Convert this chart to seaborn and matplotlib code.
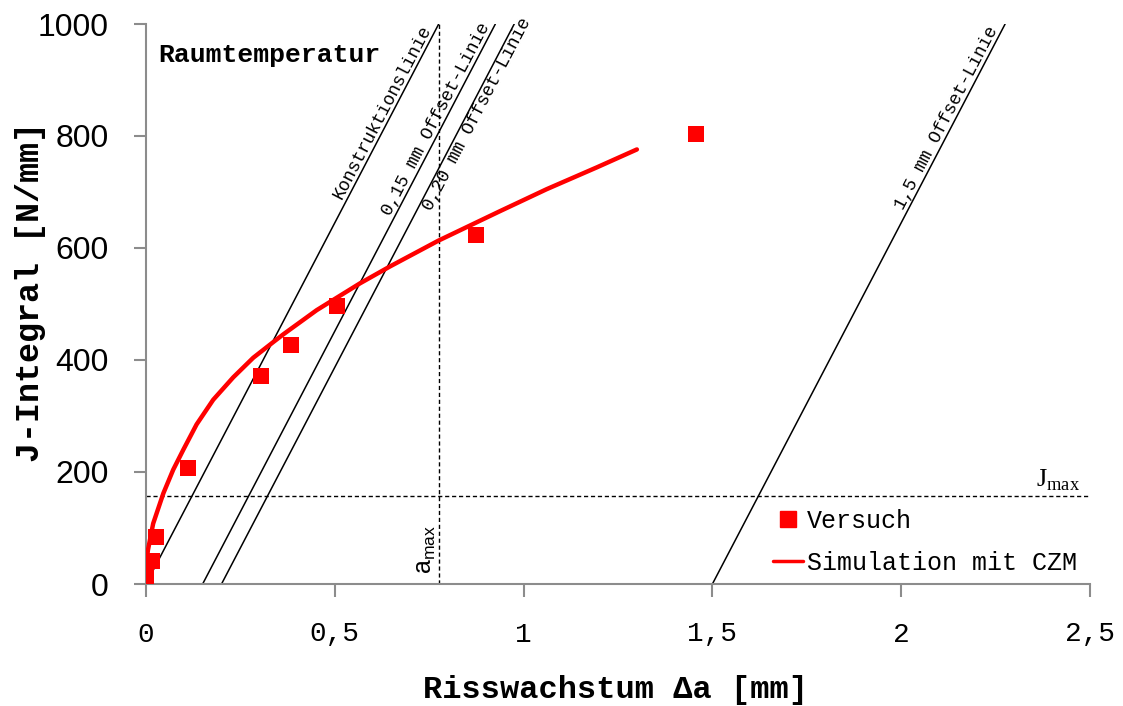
import numpy as np
import pandas as pd
import matplotlib
matplotlib.use("Agg")
import matplotlib.pyplot as plt
from matplotlib.lines import Line2D
import seaborn as sns

# Measured J-R points (crack growth in mm, J in N/mm)
versuch_da = [0.0, 0.016, 0.026, 0.111, 0.305, 0.384, 0.506, 0.874, 1.457]
versuch_J = [14, 41, 84, 207, 371, 427, 496, 623, 804]

# Simulated J-R curve with cohesive zone model
sim_da = [0.0, 0.005, 0.019, 0.046, 0.072, 0.099, 0.134, 0.178, 0.231, 0.284,
          0.337, 0.364, 0.452, 0.567, 0.646, 0.774, 0.935, 1.061, 1.194, 1.300]
sim_J = [30, 60, 108, 162, 204, 240, 285, 329, 369, 404,
         432, 446, 489, 537, 567, 613, 665, 705, 744, 776]

# Construction / offset lines (slope in N/mm per mm)
blunting_slope = 1290
offsets = [0.0, 0.15, 0.20, 1.5]
offset_labels = ["Konstruktionslinie", "0,15 mm Offset-Linie",
                 "0,20 mm Offset-Linie", "1,5 mm Offset-Linie"]
label_J = [682, 652, 676, 664]
label_side = ["left", "left", "right", "left"]

a_max = 0.776
J_max = 157

x_ticks = [0, 0.5, 1, 1.5, 2, 2.5]
x_ticklabels = ["0", "0,5", "1", "1,5", "2", "2,5"]
y_ticks = [0, 200, 400, 600, 800, 1000]

sns.set_style("white")
plt.rcParams["font.family"] = ["Liberation Mono", "DejaVu Sans Mono"]
plt.rcParams["text.color"] = "black"
plt.rcParams["axes.labelcolor"] = "black"

fig = plt.figure(figsize=(11.23, 7.06), dpi=100)
ax = fig.add_axes([146 / 1123, 1 - 584 / 706, 944 / 1123, 560 / 706])
ax.set_xlim(0, 2.5)
ax.set_ylim(0, 1000)

mono = "Liberation Mono"
spine_grey = "#8c8c8c"

# reference lines
ax.plot([a_max, a_max], [0, 1000], color="black", lw=1.0, ls=(0, (3, 2)), zorder=2)
ax.plot([0, 2.5], [J_max, J_max], color="black", lw=1.0, ls=(0, (3, 2)), zorder=2)

fig.canvas.draw()
p0 = ax.transData.transform((0, 0))
p1 = ax.transData.transform((1000 / blunting_slope, 1000))
angle = np.degrees(np.arctan2(p1[1] - p0[1], p1[0] - p0[0]))

for off, lab, jl, side in zip(offsets, offset_labels, label_J, label_side):
    ax.plot([off, off + 1000 / blunting_slope], [0, 1000], color="black", lw=1.1, zorder=2)
    ax.text(off + jl / blunting_slope, jl, lab, rotation=angle, rotation_mode="anchor",
            ha="left", va="bottom" if side == "left" else "top",
            fontsize=13, family=mono, color="black")

# data
df_v = pd.DataFrame({"da": versuch_da, "J": versuch_J})
df_s = pd.DataFrame({"da": sim_da, "J": sim_J})
sns.lineplot(data=df_s, x="da", y="J", ax=ax, color="#ff0000", lw=3.2,
             sort=False, zorder=4, legend=False)
sns.scatterplot(data=df_v, x="da", y="J", ax=ax, marker="s", s=135, color="#ff0000",
                edgecolor="none", linewidth=0, zorder=5, legend=False)

# annotations
ax.text(a_max - 0.004, 18, r"a$_\mathregular{max}$", rotation=90, ha="right", va="bottom",
        fontsize=18, family="Liberation Sans")
ax.text(2.475, J_max + 5, r"J$_\mathregular{max}$", ha="right", va="bottom",
        fontsize=19, family="Liberation Serif")
ax.text(0.0127, 0.932, "Raumtemperatur", transform=ax.transAxes, ha="left",
        va="baseline", fontsize=19, fontweight="bold", family=mono)

# axes styling
for s in ["top", "right"]:
    ax.spines[s].set_visible(False)
for s in ["left", "bottom"]:
    ax.spines[s].set_color(spine_grey)
    ax.spines[s].set_linewidth(1.5)

ax.set_xticks(x_ticks)
ax.set_xticklabels(x_ticklabels, family=mono, fontsize=20)
ax.set_yticks(y_ticks)
ax.set_yticklabels([str(v) for v in y_ticks], family="Liberation Sans", fontsize=23)
ax.tick_params(axis="x", direction="out", length=9, width=1.5, color=spine_grey,
               labelcolor="black", pad=18, bottom=True)
ax.tick_params(axis="y", direction="out", length=9, width=1.5, color=spine_grey,
               labelcolor="black", pad=18, left=True)

ax.set_xlabel("Risswachstum Δa [mm]", family=mono, fontweight="bold", fontsize=23)
ax.set_ylabel("J-Integral [N/mm]", family=mono, fontweight="bold", fontsize=24)
ax.xaxis.set_label_coords(0.497, -0.162)
ax.yaxis.set_label_coords(-0.106, 0.521)

handles = [
    Line2D([], [], marker="s", color="#ff0000", ls="none", markersize=11),
    Line2D([], [], color="#ff0000", lw=2.5),
]
ax.legend(handles, ["Versuch", "Simulation mit CZM"], loc="lower left",
          bbox_to_anchor=(0.664, 0.016), frameon=False, prop={"family": mono, "size": 18},
          handlelength=1.2, handletextpad=0.15, labelspacing=0.73, borderpad=0.0,
          borderaxespad=0.0)

fig.savefig("out.png", dpi=100)
